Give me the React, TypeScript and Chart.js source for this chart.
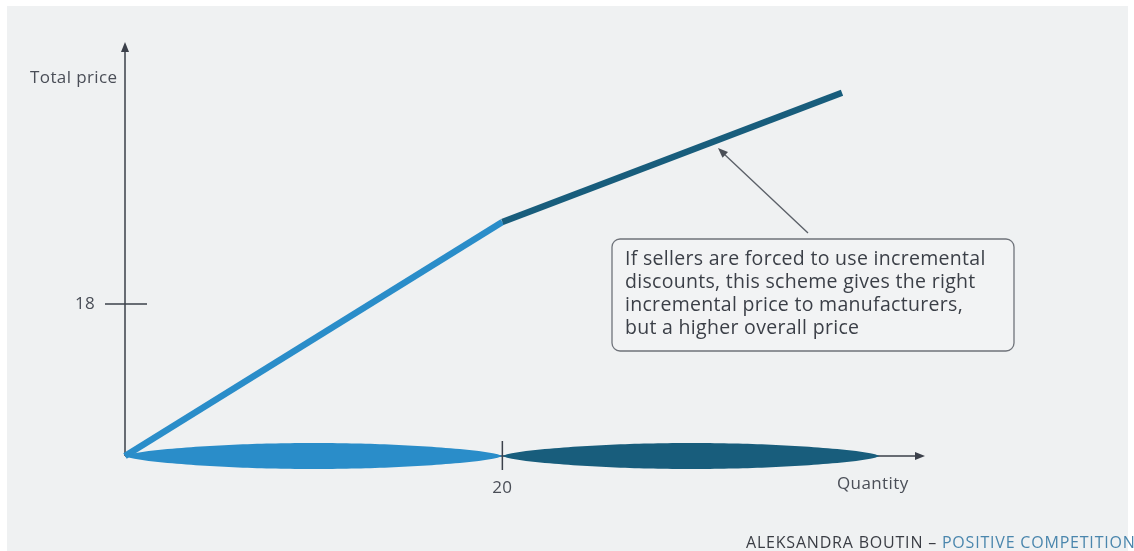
import React, { useEffect, useRef } from "react";
import { Chart, registerables } from "chart.js";

Chart.register(...registerables);

// Data
const quantities = [0, 20, 38];
const totalPrices = [0, 27.7, 43];
const tierStarts = [0, 20];
const tierEnds = [20, 40];
const tierColors = ["#2a8dc9", "#185d7c"];
const xTickValues = [20];
const xTickLabels = ["20"];
const yTickValues = [18];
const yTickLabels = ["18"];
const xAxisTitle = "Quantity";
const yAxisTitle = "Total price";
const noteLines = [
  "If sellers are forced to use incremental",
  "discounts, this scheme gives the right",
  "incremental price to manufacturers,",
  "but a higher overall price",
];
const footerDark = "ALEKSANDRA BOUTIN – ";
const footerBlue = "POSITIVE COMPETITION";

const FONT = '"Open Sans", "DejaVu Sans", sans-serif';
const AXIS_COLOR = "#3b404a";

function arrowHead(ctx: CanvasRenderingContext2D, x: number, y: number, angle: number, len: number, half: number, color: string) {
  ctx.save();
  ctx.translate(x, y);
  ctx.rotate(angle);
  ctx.beginPath();
  ctx.moveTo(0, 0);
  ctx.lineTo(-len, -half);
  ctx.lineTo(-len, half);
  ctx.closePath();
  ctx.fillStyle = color;
  ctx.fill();
  ctx.restore();
}

function lens(ctx: CanvasRenderingContext2D, a: number, b: number, cy: number, h: number) {
  const steps = 80;
  ctx.beginPath();
  for (let i = 0; i <= steps; i++) {
    const t = i / steps;
    const x = a + (b - a) * t;
    const y = cy - h * Math.pow(Math.sin(Math.PI * t), 0.6);
    if (i === 0) ctx.moveTo(x, y);
    else ctx.lineTo(x, y);
  }
  for (let i = steps; i >= 0; i--) {
    const t = i / steps;
    const x = a + (b - a) * t;
    const y = cy + h * Math.pow(Math.sin(Math.PI * t), 0.6);
    ctx.lineTo(x, y);
  }
  ctx.closePath();
}

const decorPlugin = {
  id: "decor",
  beforeDraw(chart: any) {
    const ctx = chart.ctx as CanvasRenderingContext2D;
    ctx.save();
    ctx.fillStyle = "#ffffff";
    ctx.fillRect(0, 0, chart.width, chart.height);
    ctx.fillStyle = "#eff1f2";
    ctx.fillRect(7, 6, 1121, chart.height - 6);
    ctx.restore();
  },
  beforeDatasetsDraw(chart: any) {
    const ctx = chart.ctx as CanvasRenderingContext2D;
    const xs = chart.scales.x;
    const ys = chart.scales.y;
    const x0 = xs.getPixelForValue(0);
    const y0 = ys.getPixelForValue(0);
    const xMax = xs.getPixelForValue(xs.max);
    const yMax = ys.getPixelForValue(ys.max);
    ctx.save();
    // axes
    ctx.strokeStyle = AXIS_COLOR;
    ctx.lineWidth = 1.5;
    ctx.beginPath();
    ctx.moveTo(x0, y0);
    ctx.lineTo(x0, yMax + 8);
    ctx.moveTo(x0, y0);
    ctx.lineTo(xMax - 8, y0);
    ctx.stroke();
    arrowHead(ctx, x0, yMax, -Math.PI / 2, 10, 4, AXIS_COLOR);
    arrowHead(ctx, xMax, y0, 0, 10, 4, AXIS_COLOR);
    // tier ellipses
    tierStarts.forEach((s, i) => {
      const a = xs.getPixelForValue(s);
      const b = xs.getPixelForValue(tierEnds[i]);
      lens(ctx, a, b, y0, 13);
      ctx.fillStyle = tierColors[i];
      ctx.fill();
    });
    // ticks
    ctx.strokeStyle = AXIS_COLOR;
    ctx.lineWidth = 1.5;
    yTickValues.forEach((v) => {
      const py = ys.getPixelForValue(v);
      ctx.beginPath();
      ctx.moveTo(x0 - 20, py);
      ctx.lineTo(x0 + 22, py);
      ctx.stroke();
    });
    xTickValues.forEach((v) => {
      const px = xs.getPixelForValue(v);
      ctx.beginPath();
      ctx.moveTo(px, y0 - 15);
      ctx.lineTo(px, y0 + 14);
      ctx.stroke();
    });
    ctx.restore();
  },
  afterDraw(chart: any) {
    const ctx = chart.ctx as CanvasRenderingContext2D;
    const xs = chart.scales.x;
    const ys = chart.scales.y;
    const x0 = xs.getPixelForValue(0);
    const y0 = ys.getPixelForValue(0);
    ctx.save();
    ctx.fillStyle = "#4a4e57";
    ctx.font = `17px ${FONT}`;
    (ctx as any).letterSpacing = "0.4px";
    ctx.textBaseline = "middle";
    // tick labels
    ctx.textAlign = "center";
    yTickValues.forEach((v, i) => {
      ctx.fillText(yTickLabels[i], x0 - 40, ys.getPixelForValue(v));
    });
    xTickValues.forEach((v, i) => {
      ctx.fillText(xTickLabels[i], xs.getPixelForValue(v), y0 + 32);
    });
    // axis titles
    ctx.textAlign = "left";
    ctx.fillText(yAxisTitle, 30, 78);
    ctx.fillText(xAxisTitle, 837, 484);

    // annotation box
    const bx = 612, by = 239, bw = 402, bh = 112;
    ctx.beginPath();
    ctx.roundRect(bx, by, bw, bh, 8);
    ctx.fillStyle = "#f2f3f4";
    ctx.fill();
    ctx.strokeStyle = "#6f737a";
    ctx.lineWidth = 1.3;
    ctx.stroke();
    ctx.fillStyle = "#3b3f47";
    ctx.font = `19.5px ${FONT}`;
    (ctx as any).letterSpacing = "0.3px";
    ctx.textBaseline = "middle";
    noteLines.forEach((l, i) => {
      ctx.fillText(l, 625, 259 + i * 23.3);
    });
    // pointer arrow
    const tx = 718, ty = 148, sx = 808, sy = 233;
    ctx.strokeStyle = "#5b6068";
    ctx.lineWidth = 1.3;
    ctx.beginPath();
    ctx.moveTo(sx, sy);
    ctx.lineTo(tx + 5, ty + 5);
    ctx.stroke();
    arrowHead(ctx, tx, ty, Math.atan2(ty - sy, tx - sx), 10, 4, "#4a4f57");

    // footer
    ctx.font = `16px ${FONT}`;
    (ctx as any).letterSpacing = "0.8px";
    ctx.textBaseline = "middle";
    ctx.fillStyle = "#3a3d44";
    ctx.fillText(footerDark, 746, 543);
    const w = ctx.measureText(footerDark).width;
    ctx.fillStyle = "#4a86ad";
    ctx.fillText(footerBlue, 746 + w, 543);
    ctx.restore();
  },
};

export default function App() {
  const ref = useRef<HTMLCanvasElement>(null);
  useEffect(() => {
    if (!ref.current) return;
    const chart = new Chart(ref.current, {
      type: "line",
      data: {
        datasets: [
          {
            data: quantities.map((q, i) => ({ x: q, y: totalPrices[i] })),
            borderWidth: 6.5,
            pointRadius: 0,
            borderCapStyle: "butt",
            borderJoinStyle: "miter",
            tension: 0,
            clip: false as any,
            segment: {
              borderColor: (c: any) => tierColors[c.p0DataIndex] || tierColors[1],
            },
            borderColor: tierColors[0],
          },
        ],
      },
      options: {
        animation: false,
        responsive: false,
        layout: { padding: { left: 125, right: 209, top: 42, bottom: 95 } },
        scales: {
          x: { type: "linear", min: 0, max: 42.4, display: false },
          y: { type: "linear", min: 0, max: 49, display: false },
        },
        plugins: { legend: { display: false }, tooltip: { enabled: false } },
      },
      plugins: [decorPlugin],
    });
    return () => chart.destroy();
  }, []);
  return (
    <div style={{ position: "absolute", left: 0, top: 0, width: 1134, height: 551 }}>
      <canvas ref={ref} width={1134} height={551} style={{ display: "block" }} />
    </div>
  );
}
